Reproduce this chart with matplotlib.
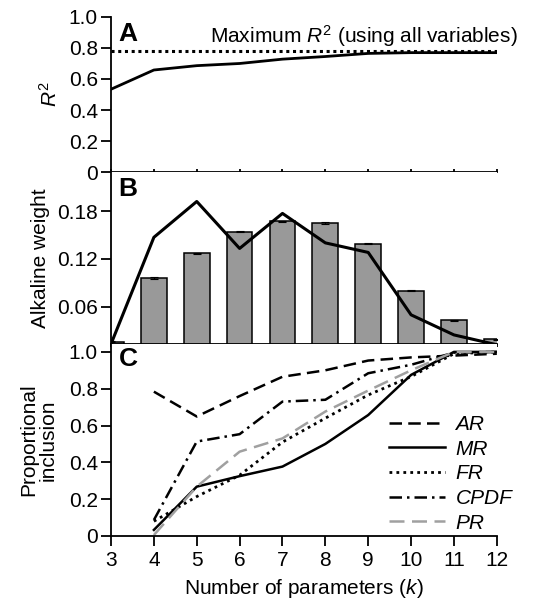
import numpy as np
import matplotlib
matplotlib.use("Agg")
import matplotlib.pyplot as plt
from matplotlib.ticker import FuncFormatter

plt.rcParams['font.family'] = ['Liberation Sans', 'DejaVu Sans']
plt.rcParams['mathtext.fontset'] = 'custom'
plt.rcParams['mathtext.rm'] = 'Liberation Sans'
plt.rcParams['mathtext.it'] = 'Liberation Sans:italic'
plt.rcParams['font.size'] = 15

# data
k = [3, 4, 5, 6, 7, 8, 9, 10, 11, 12]
r2 = [0.534, 0.658, 0.686, 0.70, 0.728, 0.745, 0.765, 0.77, 0.77, 0.77]
r2_max = 0.778

bar_weight = [0.016, 0.096, 0.127, 0.154, 0.167, 0.165, 0.139, 0.080, 0.0425, 0.019]
bar_err = [0.0008] * 10
line_weight = [0.013, 0.147, 0.192, 0.133, 0.177, 0.140, 0.128, 0.0496, 0.0244, 0.012]

k_c = [4, 5, 6, 7, 8, 9, 10, 11, 12]
ar = [0.784, 0.649, 0.76, 0.865, 0.90, 0.953, 0.97, 0.98, 0.99]
mr = [0.033, 0.268, 0.325, 0.377, 0.50, 0.657, 0.875, 1.0, 1.0]
fr = [0.08, 0.214, 0.33, 0.51, 0.64, 0.766, 0.866, 0.99, 1.0]
cpdf = [0.087, 0.513, 0.553, 0.73, 0.74, 0.884, 0.93, 0.996, 1.0]
pr = [0.005, 0.268, 0.458, 0.53, 0.676, 0.79, 0.90, 1.0, 1.0]

fig = plt.figure(figsize=(5.4, 6), dpi=100)
L, R = 0.2056, 0.920
axA = fig.add_axes([L, 0.7133, R - L, 0.9717 - 0.7133])
axB = fig.add_axes([L, 0.4267, R - L, 0.7133 - 0.4267])
axC = fig.add_axes([L, 0.1067, R - L, 0.4267 - 0.1067])

def fmt(v, pos):
    return "0" if abs(v) < 1e-9 else "%.1f" % v

for ax in (axA, axB, axC):
    ax.set_xlim(3, 12)
    ax.spines['top'].set_visible(False)
    ax.spines['right'].set_visible(False)
    ax.spines['left'].set_linewidth(1.3)
    ax.spines['bottom'].set_linewidth(1.3)
    ax.tick_params(axis='y', width=1.3, length=7.5, labelsize=15, pad=2)
    ax.tick_params(axis='x', width=1.3, length=7.5, labelsize=15, pad=3)

# panel A
axA.plot(k, r2, color='black', lw=2)
axA.plot([3, 12], [r2_max, r2_max], color='black', lw=2.2, linestyle=(0, (1, 1.2)))
axA.set_ylim(0, 1.0)
axA.set_yticks([0, 0.2, 0.4, 0.6, 0.8, 1.0])
axA.yaxis.set_major_formatter(FuncFormatter(fmt))
axA.set_xticks(k)
axA.tick_params(axis='x', length=2, direction='in', labelbottom=False)
axA.set_ylabel("$\\it{R}^2$", fontsize=15, labelpad=6)
axA.text(0.02, 0.97, "A", transform=axA.transAxes, fontsize=19, fontweight='bold', va='top')
axA.text(1.055, 0.88, "Maximum $\\it{R}^2$ (using all variables)", transform=axA.transAxes,
         ha='right', va='center', fontsize=15)

# panel B
axB.bar(k, bar_weight, width=0.6, color='#999999', edgecolor='black', lw=1.1,
        yerr=bar_err, error_kw=dict(capsize=3, elinewidth=0.8, capthick=0.8), zorder=2)
axB.plot(k, line_weight, color='black', lw=2.2, zorder=3, clip_on=True)
axB.set_ylim(0.013, 0.229)
axB.set_yticks([0.06, 0.12, 0.18])
axB.yaxis.set_major_formatter(FuncFormatter(lambda v, p: "%.2f" % v))
axB.set_xticks(k)
axB.tick_params(axis='x', length=2, direction='out', labelbottom=False)
axB.set_ylabel("Alkaline weight", fontsize=15, labelpad=5)
axB.text(0.02, 0.97, "B", transform=axB.transAxes, fontsize=19, fontweight='bold', va='top')

# panel C
axC.plot(k_c, ar, color='black', lw=1.8, linestyle=(0, (5, 2.5)), label='AR')
axC.plot(k_c, mr, color='black', lw=1.8, linestyle='-', label='MR')
axC.plot(k_c, fr, color='black', lw=2, linestyle=(0, (1, 1.5)), label='FR')
axC.plot(k_c, cpdf, color='black', lw=1.8, linestyle=(0, (5, 2, 1, 2)), label='CPDF')
axC.plot(k_c, pr, color='#a0a0a0', lw=1.8, linestyle=(0, (6, 3)), label='PR')
axC.set_ylim(0, 1.043)
axC.set_yticks([0, 0.2, 0.4, 0.6, 0.8, 1.0])
axC.yaxis.set_major_formatter(FuncFormatter(fmt))
axC.set_xticks(k)
axC.set_xlabel("Number of parameters ($\\it{k}$)", fontsize=15, labelpad=5)
axC.set_ylabel("Proportional\ninclusion", fontsize=15, labelpad=8, linespacing=1.05)
axC.text(0.02, 0.985, "C", transform=axC.transAxes, fontsize=19, fontweight='bold', va='top')
leg = axC.legend(loc='upper left', bbox_to_anchor=(0.72, 0.63), frameon=False,
                 handlelength=2.7, handletextpad=0.5, labelspacing=0.27,
                 borderpad=0, borderaxespad=0, prop={'style': 'italic', 'size': 15})

fig.savefig("out.png", dpi=100)
